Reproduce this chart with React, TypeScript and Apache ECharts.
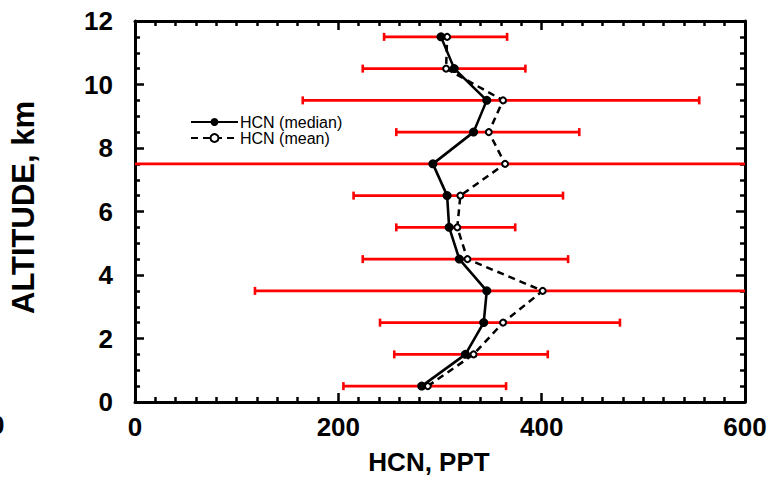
import React, { useEffect, useRef } from "react";
import * as echarts from "echarts";

const altitudes = [0.5, 1.5, 2.5, 3.5, 4.5, 5.5, 6.5, 7.5, 8.5, 9.5, 10.5, 11.5];
const medianHCN = [282, 325, 343, 346, 319, 309, 307, 293, 333, 346, 314, 301];
const meanHCN = [288, 333, 362, 401, 327, 317, 320, 364, 348, 362, 306, 307];
const lowHCN = [205, 255, 241, 118, 224, 257, 215, -150, 257, 165, 224, 245];
const highHCN = [365, 406, 477, 800, 426, 374, 421, 800, 437, 555, 384, 366];
const xTicks = [0, 200, 400, 600];
const yTicks = [0, 2, 4, 6, 8, 10, 12];

const FONT = '"Liberation Sans", Arial, Helvetica, sans-serif';
const GRID_W = 611;
const GRID_H = 381.5;

export default function App() {
  const ref = useRef<HTMLDivElement>(null);
  useEffect(() => {
    if (!ref.current) return;
    const chart = echarts.init(ref.current, undefined, { renderer: "svg" });
    const xMin = xTicks[0];
    const xMax = xTicks[xTicks.length - 1];
    const yMin = yTicks[0];
    const yMax = yTicks[yTicks.length - 1];

    const common = (split: number) => ({
      axisLine: { show: true, onZero: false, lineStyle: { color: "#000", width: 3 } },
      axisTick: { show: true, inside: true, length: 9, lineStyle: { color: "#000", width: 2.5 } },
      minorTick: { show: true, splitNumber: split, length: 5, lineStyle: { color: "#000", width: 2.5 } },
      splitLine: { show: false },
      minorSplitLine: { show: false },
    });
    const xBase = { type: "value", min: xMin, max: xMax, interval: 200 };
    const yBase = { type: "value", min: yMin, max: yMax, interval: 2 };

    const errData = altitudes.map((a, i) => [a, lowHCN[i], highHCN[i]]);
    const legendText = { fontFamily: FONT, fontSize: 16, color: "#000", padding: [0, 0, 0, -3] };

    chart.setOption({
      animation: false,
      backgroundColor: "#fff",
      grid: { left: 134, top: 21, width: GRID_W, height: GRID_H, containLabel: false },
      legend: [
        { data: ["HCN (median)"], left: 185, top: 109, itemWidth: 47, itemHeight: 10, textStyle: legendText },
        { data: ["HCN (mean)"], left: 185, top: 125, itemWidth: 47, itemHeight: 10, textStyle: legendText },
      ],
      xAxis: [
        {
          ...xBase,
          position: "bottom",
          ...common(10),
          axisLabel: {
            show: true,
            margin: 12,
            fontFamily: FONT,
            fontSize: 26,
            fontWeight: "bold",
            color: "#000",
          },
          name: "HCN, PPT",
          nameLocation: "middle",
          nameGap: 47,
          nameTextStyle: {
            fontFamily: FONT,
            fontSize: 26,
            fontWeight: "bold",
            color: "#000",
            padding: [0, 22, 0, 0],
          },
        },
        { ...xBase, position: "top", ...common(10), axisLabel: { show: false } },
      ],
      yAxis: [
        {
          ...yBase,
          position: "left",
          ...common(4),
          axisLabel: {
            show: true,
            margin: 22,
            fontFamily: FONT,
            fontSize: 26,
            fontWeight: "bold",
            color: "#000",
            padding: [0, 0, 6, 0],
          },
          name: "ALTITUDE, km",
          nameLocation: "middle",
          nameGap: 96,
          nameRotate: 90,
          nameTextStyle: {
            fontFamily: FONT,
            fontSize: 31,
            fontWeight: "bold",
            color: "#000",
            padding: [0, 0, 0, 8],
          },
        },
        { ...yBase, position: "right", ...common(4), axisLabel: { show: false } },
      ],
      graphic: [
        {
          type: "text",
          left: -10,
          top: 412,
          style: { text: "0", fontFamily: FONT, fontSize: 26, fontWeight: "bold", fill: "#000" },
        },
      ],
      series: [
        {
          type: "custom",
          name: "range",
          xAxisIndex: 0,
          yAxisIndex: 0,
          data: errData,
          encode: { x: [1, 2], y: 0 },
          z: 1,
          renderItem: (params: any, api: any) => {
            const alt = api.value(0);
            const p1 = api.coord([api.value(1), alt]);
            const p2 = api.coord([api.value(2), alt]);
            const cs = params.coordSys;
            const x0 = cs.x;
            const x1 = cs.x + cs.width;
            const a = Math.max(p1[0], x0);
            const b = Math.min(p2[0], x1);
            const st = { stroke: "#ff0000", lineWidth: 2.6 };
            const children: any[] = [
              { type: "line", shape: { x1: a, y1: p1[1], x2: b, y2: p1[1] }, style: st },
            ];
            const h = 4;
            if (p1[0] >= x0) {
              children.push({ type: "line", shape: { x1: p1[0], y1: p1[1] - h, x2: p1[0], y2: p1[1] + h }, style: st });
            }
            if (p2[0] <= x1) {
              children.push({ type: "line", shape: { x1: p2[0], y1: p2[1] - h, x2: p2[0], y2: p2[1] + h }, style: st });
            }
            return { type: "group", children };
          },
        },
        {
          type: "line",
          name: "HCN (mean)",
          xAxisIndex: 0,
          yAxisIndex: 0,
          data: altitudes.map((a, i) => [meanHCN[i], a]),
          symbol: "circle",
          symbolSize: 6,
          itemStyle: { color: "#fff", borderColor: "#000", borderWidth: 2 },
          lineStyle: { color: "#000", width: 2.5, type: [7, 5] },
          z: 3,
        },
        {
          type: "line",
          name: "HCN (median)",
          xAxisIndex: 0,
          yAxisIndex: 0,
          data: altitudes.map((a, i) => [medianHCN[i], a]),
          symbol: "circle",
          symbolSize: 9,
          itemStyle: { color: "#000", borderColor: "#000", borderWidth: 0 },
          lineStyle: { color: "#000", width: 2.6 },
          z: 4,
        },
      ],
    });
    return () => chart.dispose();
  }, []);
  return (
    <div
      ref={ref}
      style={{ position: "fixed", left: 0, top: 0, width: 777, height: 480 }}
    />
  );
}
